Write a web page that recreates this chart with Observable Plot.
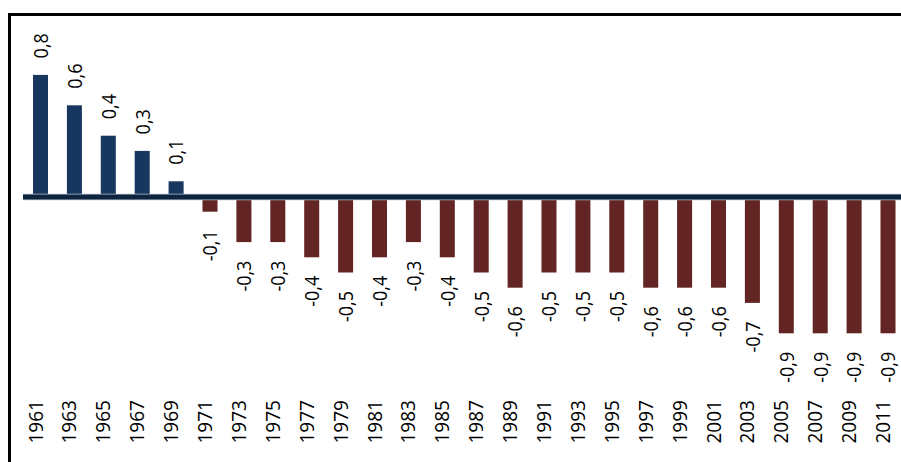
<!DOCTYPE html>
<html><head><meta charset="utf-8">
<script src="https://cdn.jsdelivr.net/npm/d3@7"></script>
<script src="https://cdn.jsdelivr.net/npm/@observablehq/plot@0.6"></script>
<style>
html,body{margin:0;padding:0;background:#fff;overflow:hidden;}
#wrap{position:relative;width:901px;height:462px;overflow:hidden;background:#fff;}
#frame{position:absolute;left:8px;top:13px;width:1000px;height:600px;border:3px solid #000;box-sizing:border-box;}
#chart{position:absolute;left:0;top:0;}
</style></head><body>
<div id="wrap"><div id="frame"></div><div id="chart"></div></div>
<script>
const years = [1961,1963,1965,1967,1969,1971,1973,1975,1977,1979,1981,1983,1985,1987,1989,1991,1993,1995,1997,1999,2001,2003,2005,2007,2009,2011];
const values = [0.8,0.6,0.4,0.3,0.1,-0.1,-0.3,-0.3,-0.4,-0.5,-0.4,-0.3,-0.4,-0.5,-0.6,-0.5,-0.5,-0.5,-0.6,-0.6,-0.6,-0.7,-0.9,-0.9,-0.9,-0.9];
const posColor = "#17375e";
const negColor = "#632523";
const axisColor = "#0f243e";

const data = years.map((year, i) => ({year, value: values[i]}));
const pos = data.filter(d => d.value >= 0);
const neg = data.filter(d => d.value < 0);
const fmt = v => v.toFixed(1).replace(".", ",");

const chart = Plot.plot({
  width: 901,
  height: 462,
  marginLeft: 23,
  marginRight: 0,
  marginTop: 0,
  marginBottom: 0,
  style: {fontFamily: "'Open Sans', sans-serif", background: "transparent", color: "#000"},
  x: {type: "band", domain: years, range: [23.55, 904.95], paddingInner: 0.557, paddingOuter: 0.2785, round: false, axis: null},
  y: {domain: [-1, 1], range: [348.5, 44.5], axis: null},
  marks: [
    Plot.barY(pos, {x: "year", y: "value", fill: posColor}),
    Plot.barY(neg, {x: "year", y: "value", fill: negColor}),
    Plot.ruleY([0], {stroke: "#b8c2d0", strokeWidth: 6.5}),
    Plot.ruleY([0], {stroke: axisColor, strokeWidth: 5}),
    Plot.text(pos, {x: "year", y: "value", text: d => fmt(d.value), rotate: -90, textAnchor: "start", dy: -17, dx: 0.5, fontSize: 18, fill: "#000", className: "vlab"}),
    Plot.text(neg, {x: "year", y: "value", text: d => fmt(d.value), rotate: -90, textAnchor: "end", dy: 18, dx: 0.5, fontSize: 18, fill: "#000", className: "vlab"}),
    Plot.text(data, {x: "year", frameAnchor: "bottom", text: d => String(d.year), rotate: -90, textAnchor: "start", dy: -19, dx: 1.5, fontSize: 19, fill: "#000", className: "ylab"})
  ]
});
// slightly taller glyphs, as in the reference
chart.querySelectorAll(".vlab text").forEach(t => t.setAttribute("transform", t.getAttribute("transform") + " scale(1,1.1)"));
chart.querySelectorAll(".ylab text").forEach(t => t.setAttribute("transform", t.getAttribute("transform") + " scale(1,1.08)"));
document.getElementById("chart").appendChild(chart);
</script>
</body></html>
